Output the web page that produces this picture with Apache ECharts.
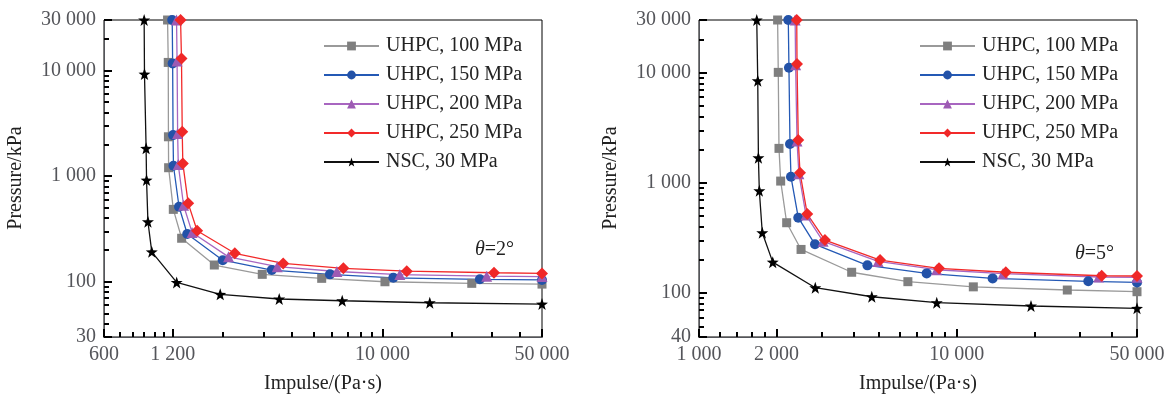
<!DOCTYPE html>
<html>
<head>
<meta charset="utf-8">
<script src="https://cdn.jsdelivr.net/npm/echarts@6/dist/echarts.min.js"></script>
<style>
  html, body { margin: 0; background: #fff; }
  #chart { width: 1172px; height: 399px; }
</style>
</head>
<body>
<div id="chart"></div>
<script>
// names shown in the legends
const seriesNames = ['UHPC, 100 MPa', 'UHPC, 150 MPa', 'UHPC, 200 MPa', 'UHPC, 250 MPa', 'NSC, 30 MPa'];

// θ = 2° : impulse (Pa·s) and pressure (kPa)
const t2U100Imp = [1140, 1148, 1150, 1152, 1208, 1314, 1828, 2966, 5405, 10240, 24600, 50000];
const t2U100Pre = [30000, 11900, 2355, 1200, 484, 258, 144, 117.5, 107.7, 100, 96.6, 95];
const t2U150Imp = [1195, 1200, 1205, 1210, 1280, 1391, 1990, 3265, 5875, 11140, 26700, 50000];
const t2U150Pre = [30000, 11650, 2443, 1253, 513, 283, 160, 129, 117.5, 109, 105.4, 104];
const t2U200Imp = [1248, 1255, 1262, 1270, 1340, 1460, 2110, 3450, 6300, 11900, 28600, 50000];
const t2U200Pre = [30000, 12300, 2530, 1285, 530, 293, 172, 139, 125, 117, 113, 112];
const t2U250Imp = [1300, 1312, 1322, 1330, 1404, 1537, 2248, 3665, 6730, 12760, 30800, 50000];
const t2U250Pre = [30000, 13000, 2624, 1318, 552, 304, 186, 149, 134, 126, 121.6, 120];
const t2NscImp = [900, 903, 918, 922, 935, 972, 1250, 1940, 3520, 6650, 16100, 50000];
const t2NscPre = [30000, 9230, 1830, 917, 370, 192, 98.6, 76, 68.7, 66.1, 63.3, 61.5];

// θ = 5°
const t5U100Imp = [2018, 2030, 2043, 2074, 2188, 2488, 3910, 6460, 11590, 26830, 50000];
const t5U100Pre = [30000, 10050, 2055, 1038, 435, 249, 154.6, 127, 114, 106.7, 103];
const t5U150Imp = [2220, 2233, 2254, 2274, 2427, 2818, 4500, 7640, 13770, 32360, 50000];
const t5U150Pre = [30000, 11080, 2250, 1135, 483, 277, 178.6, 151, 136, 128, 125];
const t5U200Imp = [2360, 2370, 2400, 2440, 2600, 3030, 4950, 8350, 15100, 35500, 50000];
const t5U200Pre = [30000, 11800, 2400, 1210, 510, 295, 194, 163, 150, 140, 139];
const t5U250Imp = [2394, 2400, 2427, 2465, 2630, 3080, 5040, 8530, 15490, 36470, 50000];
const t5U250Pre = [30000, 11950, 2443, 1236, 521, 303, 199.5, 168, 154.6, 143.8, 143];
const t5NscImp = [1675, 1690, 1700, 1714, 1760, 1932, 2825, 4680, 8360, 19400, 50000];
const t5NscPre = [30000, 8440, 1690, 848, 353, 191, 112, 92.7, 81.9, 76.4, 72.8];

// tick labels (major) and unlabeled minor ticks
const t2XTicks = [600, 1200, 10000, 50000];
const t2YTicks = [30, 100, 1000, 10000, 30000];
const t5XTicks = [1000, 2000, 10000, 50000];
const t5YTicks = [40, 100, 1000, 10000, 30000];
const t2XMinor = [700, 800, 900, 1000, 1100, 2000, 3000, 4000, 5000, 6000, 7000, 8000, 9000, 20000, 30000, 40000];
const t2YMinor = [40, 50, 60, 70, 80, 90, 200, 300, 400, 500, 600, 700, 800, 900,
  2000, 3000, 4000, 5000, 6000, 7000, 8000, 9000, 20000];
const t5XMinor = [1200, 1400, 1600, 1800, 3000, 4000, 5000, 6000, 7000, 8000, 9000, 20000, 30000, 40000];
const t5YMinor = [50, 60, 70, 80, 90, 200, 300, 400, 500, 600, 700, 800, 900,
  2000, 3000, 4000, 5000, 6000, 7000, 8000, 9000, 20000];

const FONT = 'Liberation Serif';
const STAR = 'path://M0,-10L2.35,-3.24L9.51,-3.09L3.8,1.24L5.88,8.09L0,4L-5.88,8.09L-3.8,1.24L-9.51,-3.09L-2.35,-3.24Z';

const styles = [
  { line: '#9a9a9a', mark: '#7f7f7f', symbol: 'rect', size: 9 },
  { line: '#2459b5', mark: '#2352a8', symbol: 'circle', size: 10 },
  { line: '#a866c0', mark: '#9d5bb3', symbol: 'triangle', size: 11 },
  { line: '#f22a2a', mark: '#f02828', symbol: 'diamond', size: 12 },
  { line: '#111111', mark: '#000000', symbol: STAR, size: 12 }
];

// both axes are logarithmic: values go through log10 onto a value axis
const lg = v => Math.log10(v);
const fmt = v => String(Math.round(Math.pow(10, v))).replace(/\B(?=(\d{3})+(?!\d))/g, ' ');
const zip = (xs, ys) => xs.map((x, i) => [lg(x), lg(ys[i])]);

function majorAxis(grid, min, max, ticks, isX) {
  return {
    type: 'value', gridIndex: grid, min: lg(min), max: lg(max),
    position: isX ? 'bottom' : 'left',
    axisLine: { show: true, lineStyle: { color: '#000', width: 1 } },
    axisTick: { show: true, inside: true, length: 8, customValues: ticks.map(lg), lineStyle: { color: '#000', width: 2 } },
    axisLabel: { customValues: ticks.map(lg), formatter: fmt, fontFamily: FONT, fontSize: 20 },
    splitLine: { show: false }
  };
}

// second axis on the same side, only for the short minor ticks
function minorAxis(grid, min, max, ticks, isX) {
  return {
    type: 'value', gridIndex: grid, min: lg(min), max: lg(max),
    position: isX ? 'bottom' : 'left',
    axisLine: { show: true },
    axisTick: { show: true, inside: true, length: 5, customValues: ticks.map(lg), lineStyle: { color: '#000', width: 2 } },
    axisLabel: { show: false },
    splitLine: { show: false }
  };
}

// NSC first so the UHPC curves sit on top of it
const drawOrder = [4, 0, 1, 2, 3];
function makeSeries(xi, yi, pairs) {
  return drawOrder.map(i => ({
    name: seriesNames[i],
    type: 'line',
    xAxisIndex: xi, yAxisIndex: yi,
    data: zip(pairs[i][0], pairs[i][1]),
    symbol: styles[i].symbol,
    symbolSize: styles[i].size,
    showAllSymbol: true,
    lineStyle: { color: styles[i].line, width: 1.3 },
    itemStyle: { color: styles[i].mark }
  }));
}

const t2Series = makeSeries(0, 0, [
  [t2U100Imp, t2U100Pre], [t2U150Imp, t2U150Pre], [t2U200Imp, t2U200Pre],
  [t2U250Imp, t2U250Pre], [t2NscImp, t2NscPre]
]);
const t5Series = makeSeries(2, 2, [
  [t5U100Imp, t5U100Pre], [t5U150Imp, t5U150Pre], [t5U200Imp, t5U200Pre],
  [t5U250Imp, t5U250Pre], [t5NscImp, t5NscPre]
]);

function legendAt(left) {
  return {
    data: seriesNames, orient: 'vertical', left: left, top: 31,
    itemWidth: 55, itemHeight: 11, itemGap: 9,
    textStyle: { fontFamily: FONT, fontSize: 20, color: '#222', padding: [0, 0, 0, 2] },
    selectedMode: false
  };
}

function label(text, x, y, rotate) {
  return {
    type: 'text', x: x, y: y, rotation: rotate ? Math.PI / 2 : 0,
    style: { text: text, fill: '#222', font: '20px "Liberation Serif"', textAlign: 'center', textVerticalAlign: 'middle' }
  };
}

function angleNote(text, x, y) {
  return {
    type: 'text', left: x, top: y,
    style: {
      text: '{i|θ}' + text, fill: '#222', font: '20px "Liberation Serif"',
      rich: { i: { fontStyle: 'italic', fontFamily: FONT, fontSize: 20, fill: '#222' } }
    }
  };
}

const chart = echarts.init(document.getElementById('chart'));
chart.setOption({
  animation: false,
  grid: [
    { left: 104, top: 20, width: 438, height: 317, show: true, borderColor: '#000', borderWidth: 1 },
    { left: 699, top: 20, width: 438, height: 317, show: true, borderColor: '#000', borderWidth: 1 }
  ],
  xAxis: [
    majorAxis(0, 600, 50000, t2XTicks, true),
    minorAxis(0, 600, 50000, t2XMinor, true),
    majorAxis(1, 1000, 50000, t5XTicks, true),
    minorAxis(1, 1000, 50000, t5XMinor, true)
  ],
  yAxis: [
    majorAxis(0, 30, 30000, t2YTicks, false),
    minorAxis(0, 30, 30000, t2YMinor, false),
    majorAxis(1, 40, 30000, t5YTicks, false),
    minorAxis(1, 40, 30000, t5YMinor, false)
  ],
  legend: [legendAt(318), legendAt(914)],
  graphic: [
    label('Pressure/kPa', 16, 178, true),
    label('Pressure/kPa', 611, 178, true),
    label('Impulse/(Pa·s)', 323, 384, false),
    label('Impulse/(Pa·s)', 918, 384, false),
    angleNote('=2°', 475, 240),
    angleNote('=5°', 1075, 244)
  ],
  series: t2Series.concat(t5Series)
});
</script>
</body>
</html>
